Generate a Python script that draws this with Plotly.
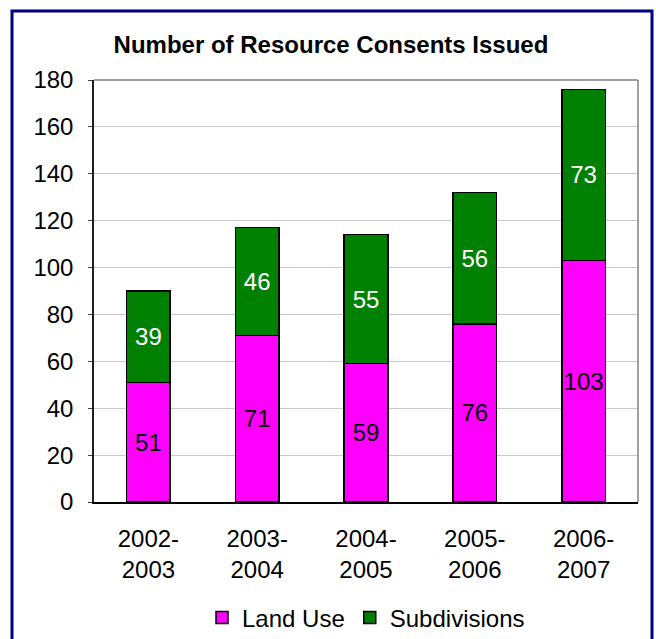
import plotly.graph_objects as go

# Consent counts per financial year
years = ["2002-<br>2003", "2003-<br>2004", "2004-<br>2005", "2005-<br>2006", "2006-<br>2007"]
land_use = [51, 71, 59, 76, 103]
subdivisions = [39, 46, 55, 56, 73]

FONT = "'Liberation Sans', Arial, sans-serif"
FS = 24

fig = go.Figure()
fig.add_trace(go.Bar(
    x=years, y=land_use, name="Land Use",
    marker=dict(color="#FF00FF", line=dict(color="black", width=1.5)),
    text=land_use, textposition="inside", insidetextanchor="middle",
    textangle=0, textfont=dict(color="black", size=FS, family=FONT),
    constraintext="none", width=0.4,
))
fig.add_trace(go.Bar(
    x=years, y=subdivisions, name="Subdivisions",
    marker=dict(color="#008000", line=dict(color="black", width=1.5)),
    text=subdivisions, textposition="inside", insidetextanchor="middle",
    textangle=0, textfont=dict(color="white", size=FS, family=FONT),
    constraintext="none", width=0.4,
))

# Plot-area geometry in pixels (656 x 639 canvas)
L, R, T, B = 94, 638, 80, 502
W, H = R - L, B - T

def px(x):
    return (x - L) / W

def py(y):
    return (B - y) / H

shapes = [
    # outer navy frame
    dict(type="rect", xref="paper", yref="paper",
         x0=px(12), x1=px(652), y0=py(655), y1=py(11),
         line=dict(color="#000080", width=3), fillcolor="rgba(0,0,0,0)"),
    # grey top and right edges of the plot area
    dict(type="line", xref="paper", yref="paper", x0=0, x1=1, y0=1, y1=1,
         line=dict(color="#808080", width=1.5)),
    dict(type="line", xref="paper", yref="paper", x0=1, x1=1, y0=0, y1=1,
         line=dict(color="#808080", width=1.5)),
]

fig.update_layout(
    barmode="stack",
    width=656, height=639,
    margin=dict(l=L, r=656 - R, t=T, b=639 - B, pad=0, autoexpand=False),
    paper_bgcolor="white", plot_bgcolor="white",
    font=dict(family=FONT, size=FS, color="black"),
    title=dict(text="<b>Number of Resource Consents Issued</b>",
               x=331 / 656, xref="container", xanchor="center",
               y=1 - 45 / 639, yref="container", yanchor="middle",
               font=dict(size=FS, family=FONT, color="black")),
    xaxis=dict(showline=True, linecolor="black", linewidth=1.5,
               ticks="", showgrid=False, tickfont=dict(size=FS),
               ticklabelstandoff=14, automargin=False),
    yaxis=dict(range=[0, 180], dtick=20, showline=True, linecolor="#202020",
               linewidth=1.5, showgrid=True, gridcolor="#c8c8c8", gridwidth=1,
               ticks="outside", ticklen=4, tickcolor="#404040",
               tickfont=dict(size=FS), zeroline=False, ticklabelstandoff=10,
               automargin=False),
    legend=dict(orientation="h", x=0.5, xanchor="center",
                yref="container", y=1 - 618 / 639,
                yanchor="middle", font=dict(size=FS), traceorder="normal",
                itemwidth=30, bgcolor="rgba(0,0,0,0)"),
    shapes=shapes,
    bargap=0.6,
)

fig.write_html("out.html")
